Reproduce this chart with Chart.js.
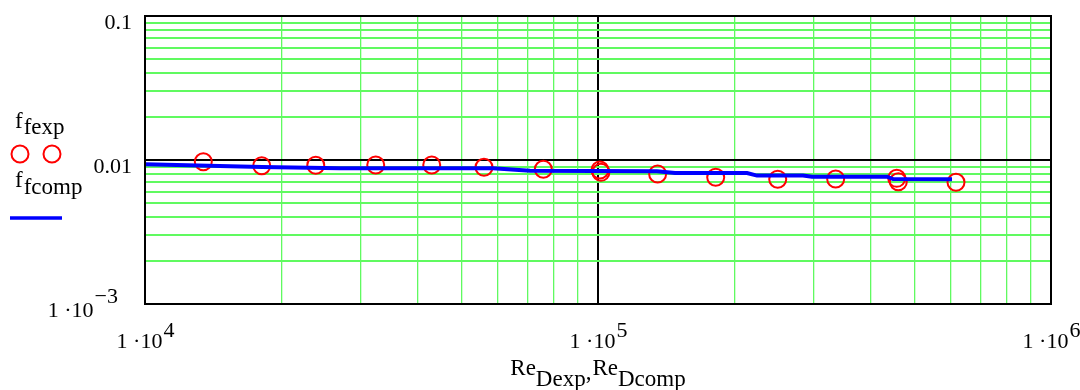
<!DOCTYPE html>
<html>
<head>
<meta charset="utf-8">
<title>Friction factor vs Reynolds number</title>
<script src="https://cdn.jsdelivr.net/npm/chart.js@4.4.1/dist/chart.umd.min.js"></script>
<style>
  html, body { margin: 0; padding: 0; background: #ffffff; }
  #wrap { position: relative; width: 1080px; height: 390px; }
</style>
</head>
<body>
<div id="wrap"><canvas id="c" width="1080" height="390"></canvas></div>
<script>
// Measured friction factors
const reExp = [1.345e4, 1.810e4, 2.382e4, 3.231e4, 4.295e4, 5.602e4, 7.574e4, 1.010e5,
               1.015e5, 1.354e5, 1.819e5, 2.493e5, 3.347e5, 4.565e5, 4.602e5, 6.170e5];
const ffExp = [0.00973, 0.00913, 0.00919, 0.00923, 0.00923, 0.00890, 0.00862, 0.00852,
               0.00821, 0.00799, 0.00759, 0.00735, 0.00738, 0.00746, 0.00707, 0.00700];

// Computed friction factor curve
const reComp = [1.0e4, 1.813e4, 2.696e4, 5.866e4, 7.08e4, 1.35e5, 1.479e5, 2.133e5,
                2.244e5, 2.835e5, 2.968e5, 4.345e5, 4.48e5, 6.046e5];
const ffComp = [0.00933, 0.00894, 0.00876, 0.00876, 0.00843, 0.00835, 0.00812, 0.00812,
                0.00779, 0.00779, 0.00766, 0.00766, 0.00738, 0.00735];

// Axis ranges and decade labels
const xRange = [1e4, 1e6];
const yRange = [1e-3, 0.1];
const xTickExponents = [4, 5, 6];
const yTickLabels = [
  { value: 0.1,  text: '0.1',  sup: '' },
  { value: 0.01, text: '0.01', sup: '' },
  { value: 0.001, text: '1 \u00B710', sup: '\u22123' }
];
const xTitleParts = [['Re', 'Dexp'], ['Re', 'Dcomp']];
const legendNames = [['f', 'fexp'], ['f', 'fcomp']];

const SERIF = '"Liberation Serif", "Times New Roman", serif';
const RED = '#ff0000';
const BLUE = '#0000ff';
const GREEN = 'rgb(96,250,96)';

// 1,2,...,9 x 10^k between the range ends
function decadeTicks(lo, hi) {
  const out = [];
  const e0 = Math.round(Math.log10(lo)), e1 = Math.round(Math.log10(hi));
  for (let e = e0; e <= e1; e++) {
    for (let m = 1; m <= 9; m++) {
      const v = m * Math.pow(10, e);
      if (v >= lo * 0.999 && v <= hi * 1.001) out.push({ value: v });
    }
  }
  return out;
}
function isDecade(v) {
  const l = Math.log10(v);
  return Math.abs(l - Math.round(l)) < 1e-9;
}

const expPoints = reExp.map((x, i) => ({ x, y: ffExp[i] }));
const compPoints = reComp.map((x, i) => ({ x, y: ffComp[i] }));

// Tick labels, axis title, legend and frame
const annotate = {
  id: 'annotate',
  afterDraw(chart) {
    const ctx = chart.ctx;
    const xs = chart.scales.x, ys = chart.scales.y;
    const area = chart.chartArea;
    ctx.save();

    // frame
    ctx.strokeStyle = '#000';
    ctx.lineWidth = 2;
    ctx.strokeRect(area.left, area.top, area.right - area.left, area.bottom - area.top);

    ctx.fillStyle = '#000';
    ctx.textBaseline = 'alphabetic';

    // x tick labels: 1·10^n
    const tickFont = '22px ' + SERIF;
    xTickExponents.forEach(n => {
      const px = xs.getPixelForValue(Math.pow(10, n));
      ctx.font = tickFont;
      const base = '1 \u00B710';
      const wb = ctx.measureText(base).width;
      const ws = ctx.measureText(String(n)).width;
      const x0 = px - (wb + ws) / 2;
      ctx.textAlign = 'left';
      ctx.fillText(base, x0, area.bottom + 44);
      ctx.fillText(String(n), x0 + wb + 1, area.bottom + 33);
    });

    // y tick labels
    yTickLabels.forEach(t => {
      const py = ys.getPixelForValue(t.value);
      ctx.font = tickFont;
      ctx.textAlign = 'left';
      if (t.sup) {
        const wb = ctx.measureText(t.text).width;
        const ws = ctx.measureText(t.sup).width;
        const right = area.left - 27;
        const x0 = right - wb - ws - 1;
        ctx.fillText(t.text, x0, py + 13);
        ctx.fillText(t.sup, x0 + wb + 1, py - 1);
      } else {
        const w = ctx.measureText(t.text).width;
        ctx.fillText(t.text, area.left - 13 - w, py + 13);
      }
    });

    // x axis title with subscripts
    ctx.font = '23px ' + SERIF;
    let total = 0;
    xTitleParts.forEach((p, i) => {
      total += ctx.measureText(p[0]).width + ctx.measureText(p[1]).width;
      if (i < xTitleParts.length - 1) total += ctx.measureText(',').width + 1;
    });
    let tx = (area.left + area.right) / 2 - total / 2;
    xTitleParts.forEach((p, i) => {
      ctx.fillText(p[0], tx, 375);
      tx += ctx.measureText(p[0]).width;
      ctx.fillText(p[1], tx, 386);
      tx += ctx.measureText(p[1]).width;
      if (i < xTitleParts.length - 1) {
        ctx.fillText(',', tx, 379);
        tx += ctx.measureText(',').width + 1;
      }
    });

    // legend
    ctx.font = '23px ' + SERIF;
    const lx = 15;
    const drawName = (parts, yb, ysub) => {
      ctx.fillStyle = '#000';
      ctx.fillText(parts[0], lx, yb);
      ctx.fillText(parts[1], lx + ctx.measureText(parts[0]).width + 1, ysub);
    };
    drawName(legendNames[0], 128, 134);
    ctx.strokeStyle = RED;
    ctx.lineWidth = 2;
    [20, 52].forEach(cx => {
      ctx.beginPath();
      ctx.arc(cx, 154, 8.5, 0, Math.PI * 2);
      ctx.stroke();
    });
    drawName(legendNames[1], 187, 194);
    ctx.strokeStyle = BLUE;
    ctx.lineWidth = 3.5;
    ctx.beginPath();
    ctx.moveTo(10, 218);
    ctx.lineTo(62, 218);
    ctx.stroke();

    ctx.restore();
  }
};

new Chart(document.getElementById('c'), {
  type: 'scatter',
  data: {
    datasets: [
      {
        label: 'f_fcomp',
        type: 'line',
        data: compPoints,
        showLine: true,
        borderColor: BLUE,
        borderWidth: 4,
        pointRadius: 0,
        tension: 0,
        fill: false,
        order: 0
      },
      {
        label: 'f_fexp',
        data: expPoints,
        showLine: false,
        pointStyle: 'circle',
        pointRadius: 8.5,
        pointBorderWidth: 2,
        borderColor: RED,
        backgroundColor: 'rgba(0,0,0,0)',
        order: 1
      }
    ]
  },
  options: {
    responsive: false,
    animation: false,
    events: [],
    layout: { padding: { left: 145, top: 16, right: 29, bottom: 86 } },
    plugins: {
      legend: { display: false },
      tooltip: { enabled: false },
      title: { display: false }
    },
    scales: {
      x: {
        type: 'logarithmic',
        min: xRange[0],
        max: xRange[1],
        afterBuildTicks: s => { s.ticks = decadeTicks(xRange[0], xRange[1]); },
        afterFit: s => { s.height = 0; },
        ticks: { display: false },
        border: { display: false },
        grid: {
          drawTicks: false,
          color: c => isDecade(c.tick.value) ? '#000' : GREEN,
          lineWidth: c => isDecade(c.tick.value) ? 2 : 1.3
        }
      },
      y: {
        type: 'logarithmic',
        min: yRange[0],
        max: yRange[1],
        afterBuildTicks: s => { s.ticks = decadeTicks(yRange[0], yRange[1]); },
        afterFit: s => { s.width = 0; },
        ticks: { display: false },
        border: { display: false },
        grid: {
          drawTicks: false,
          color: c => isDecade(c.tick.value) ? '#000' : GREEN,
          lineWidth: c => isDecade(c.tick.value) ? 2 : 2
        }
      }
    }
  },
  plugins: [annotate]
});
</script>
</body>
</html>
